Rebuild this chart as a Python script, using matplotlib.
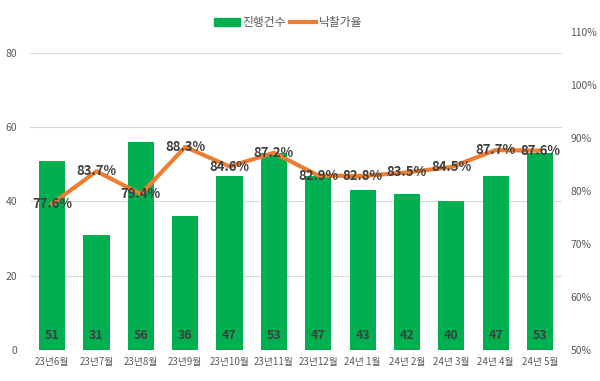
import numpy as np
import matplotlib
matplotlib.use("Agg")
import matplotlib.pyplot as plt
from matplotlib.lines import Line2D
from matplotlib.patches import Patch

plt.rcParams['font.family'] = ['Noto Sans CJK KR', 'DejaVu Sans']

months = ["23년6월", "23년7월", "23년8월", "23년9월", "23년10월", "23년11월",
          "23년12월", "24년 1월", "24년 2월", "24년 3월", "24년 4월", "24년 5월"]
counts = [51, 31, 56, 36, 47, 53, 47, 43, 42, 40, 47, 53]
rates = [77.6, 83.7, 79.4, 88.3, 84.6, 87.2, 82.9, 82.8, 83.5, 84.5, 87.7, 87.6]

green = "#00B050"
orange = "#ED7D31"
grey = "#595959"

fig = plt.figure(figsize=(6, 3.81), dpi=100)
ax = fig.add_axes([0.05, 0.0814, 0.887, 0.835])
x = np.arange(len(months))

ax.bar(x, counts, width=0.59, color=green, zorder=2)
for xi, c in zip(x, counts):
    ax.text(xi, 4, str(c), ha="center", va="center", fontsize=9,
            fontweight="bold", color="#404040", zorder=3)

ax.set_ylim(0, 85.7)
ax.set_yticks([0, 20, 40, 60, 80])
ax.set_xlim(-0.5, len(months) - 0.5)
ax.set_xticks(x)
ax.set_xticklabels(months, color=grey)
ax.tick_params(axis="both", length=0, colors=grey, labelsize=7.5)
ax.tick_params(axis="x", pad=5, labelsize=7)
ax.tick_params(axis="y", pad=9)
ax.grid(axis="y", color="#D9D9D9", linewidth=0.8, zorder=0)
ax.set_axisbelow(True)
for s in ax.spines.values():
    s.set_visible(False)

ax2 = ax.twinx()
ax2.plot(x, rates, color=orange, linewidth=3, solid_joinstyle="round", zorder=4)
for xi, r in zip(x, rates):
    ax2.text(xi, r, "{:.1f}%".format(r), ha="center", va="center", fontsize=9.5,
             fontweight="bold", color="#404040", zorder=5)
ax2.set_ylim(50, 110)
ax2.set_yticks([50, 60, 70, 80, 90, 100, 110])
ax2.set_yticklabels(["{}%".format(v) for v in range(50, 111, 10)])
ax2.tick_params(axis="y", length=0, colors=grey, labelsize=7.5, pad=6)
for s in ax2.spines.values():
    s.set_visible(False)

handles = [Patch(color=green, label="진행건수"),
           Line2D([0], [0], color=orange, linewidth=3, label="낙찰가율")]
fig.legend(handles=handles, loc="center", bbox_to_anchor=(0.48, 0.94), ncol=2,
           frameon=False, fontsize=8.5, labelcolor=grey, handlelength=2.2,
           handletextpad=0.2, columnspacing=0.4)

fig.savefig("out.png", dpi=100)
